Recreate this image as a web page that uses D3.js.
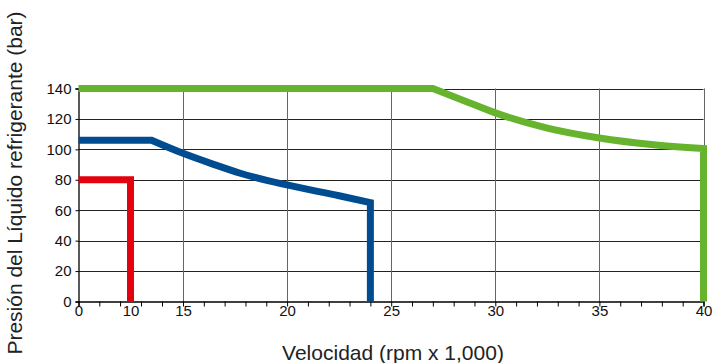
<!DOCTYPE html>
<html><head><meta charset="utf-8">
<script src="https://cdn.jsdelivr.net/npm/d3@7"></script>
<style>body{margin:0;background:#fff}svg{display:block;font-family:"Liberation Sans",Arial,sans-serif}</style>
</head><body><svg id="c" width="713" height="363"></svg>
<script>
// ---- data ----
const xTickLabels = [0, 10, 15, 20, 25, 30, 35, 40];
const xMinorTicks = [0, 4, 8, 11, 13, 15, 16, 17, 18, 19, 20, 21, 22, 23, 24, 25, 26, 27, 28, 29, 30, 31, 32, 33, 34, 35, 36, 37, 38, 39, 40];
const xGrid = [15, 20, 25, 30, 35, 40];
const yTicks = [0, 20, 40, 60, 80, 100, 120, 140];
const redX   = [0, 10, 10];
const redY   = [80, 80, 0];
const blueX  = [0, 12, 15, 16.5, 17.75, 20, 22.5, 24, 24];
const blueY  = [106, 106, 97.4, 90, 84.3, 76.6, 69.5, 65, 0];
const greenX = [0, 27, 28.5, 30, 32.5, 35, 37.5, 40, 40];
const greenY = [140, 140, 132, 124, 114, 107.5, 103.2, 100.5, 0];
const seriesColors = ["#e3000f", "#004c91", "#66b32e"];
const xTitle = "Velocidad (rpm x 1,000)";
const yTitle = "Presión del Líquido refrigerante (bar)";

// ---- chart ----
const svg = d3.select("#c");
const L = 78.5, R = 703.5, T = 88.5, B = 301.5;
const x = d3.scaleLinear().domain([0, 10, 15, 40]).range([L, L + 52, L + 104.5, R]);
const y = d3.scaleLinear().domain([0, 140]).range([B, T]);

// grid
svg.append("g").selectAll("line").data(yTicks.filter(d => d > 0)).join("line")
  .attr("x1", L).attr("x2", R).attr("y1", d => Math.round(y(d)) + 0.5).attr("y2", d => Math.round(y(d)) + 0.5)
  .attr("stroke", "#222").attr("stroke-width", 1);
svg.append("g").selectAll("line").data(xGrid).join("line")
  .attr("x1", d => Math.round(x(d)) + 0.5).attr("x2", d => Math.round(x(d)) + 0.5).attr("y1", T).attr("y2", B)
  .attr("stroke", "#666").attr("stroke-width", 1);

// x axis: minor ticks + labels
const xAxis = d3.axisBottom(x).tickValues(xMinorTicks).tickSize(5).tickFormat("");
const gx = svg.append("g").attr("transform", `translate(0,${B})`).call(xAxis);
gx.select(".domain").attr("stroke", "#000").attr("stroke-width", 1.3);
gx.selectAll(".tick line").attr("stroke", "#000");
const xLab = d3.axisBottom(x).tickValues(xTickLabels).tickSize(0).tickPadding(4).tickFormat(d3.format("d"));
const gxl = svg.append("g").attr("transform", `translate(0,${B})`).call(xLab);
gxl.select(".domain").remove();
gxl.selectAll("text").attr("font-size", 15).attr("fill", "#111").attr("font-family", "Liberation Sans, Arial, sans-serif");

// y axis
const yAxis = d3.axisLeft(y).tickValues(yTicks).tickSize(3).tickPadding(4).tickFormat(d3.format("d"));
const gy = svg.append("g").attr("transform", `translate(${L},0)`).call(yAxis);
gy.select(".domain").attr("stroke", "#000").attr("stroke-width", 1.3);
gy.selectAll(".tick line").attr("stroke", "#000");
gy.selectAll("text").attr("font-size", 15).attr("fill", "#111").attr("font-family", "Liberation Sans, Arial, sans-serif");

// series: flat start (straight), smooth middle, vertical drop (straight)
const series = [[redX, redY], [blueX, blueY], [greenX, greenY]];
const straight = d3.line().x(d => x(d[0])).y(d => y(d[1]));
const smooth = d3.line().x(d => x(d[0])).y(d => y(d[1])).curve(d3.curveMonotoneX);
series.forEach(([xs, ys], i) => {
  const pts = xs.map((v, j) => [v, ys[j]]);
  const n = pts.length;
  let d = straight(pts.slice(0, 2));
  if (n > 3) d += smooth(pts.slice(1, n - 1)).replace(/^M/, "L");
  d += "L" + x(pts[n - 1][0]) + "," + y(pts[n - 1][1]);
  svg.append("path").attr("d", d).attr("fill", "none")
    .attr("stroke", seriesColors[i]).attr("stroke-width", 7)
    .attr("stroke-linejoin", "miter").attr("stroke-linecap", "butt");
});

// titles
svg.append("text").attr("x", 393).attr("y", 360).attr("text-anchor", "middle")
  .attr("font-size", 21).attr("fill", "#222").text(xTitle);
svg.append("text").attr("transform", "translate(22,183) rotate(-90)").attr("text-anchor", "middle")
  .attr("font-size", 21).attr("fill", "#222").text(yTitle);
</script></body></html>
